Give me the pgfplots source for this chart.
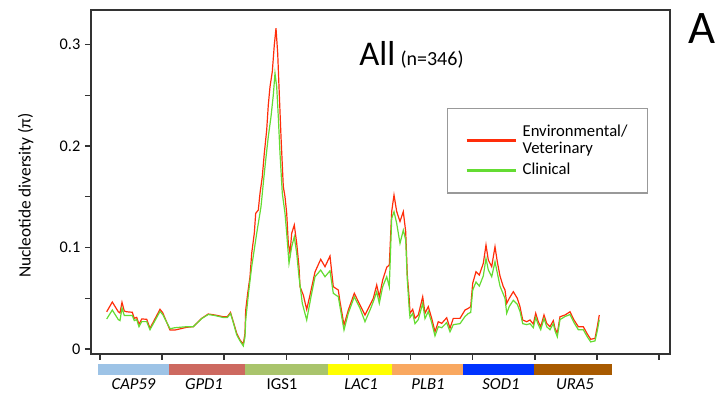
\documentclass[border=0pt]{standalone}
\usepackage{fontspec}
\setmainfont{Carlito}
\usepackage{pgfplots}
\pgfplotsset{compat=1.18}
\definecolor{envred}{RGB}{255,45,10}
\definecolor{clingreen}{RGB}{100,220,50}
\definecolor{gCAP}{RGB}{157,195,230}
\definecolor{gGPD}{RGB}{205,105,96}
\definecolor{gIGS}{RGB}{169,196,108}
\definecolor{gLAC}{RGB}{255,255,0}
\definecolor{gPLB}{RGB}{249,168,96}
\definecolor{gSOD}{RGB}{0,51,255}
\definecolor{gURA}{RGB}{168,90,0}
\begin{document}
\begin{tikzpicture}
\path[use as bounding box] (0,0) rectangle (538.5pt,296.25pt);
\begin{axis}[
  at={(68.25pt,30.75pt)}, anchor=south west,
  scale only axis, width=434.25pt, height=258pt,
  xmin=91, xmax=670, ymin=-0.0049, ymax=0.334,
  clip=false,
  axis line style={line width=1.1pt, color=black!80},
  every tick/.style={line width=1.1pt, color=black!80},
  tick align=outside, major tick length=4.5pt, minor tick length=4.5pt,
  xtick pos=left, ytick pos=left,
  xtick={100,162.1,224.2,286.3,348.4,410.6,472.7,534.8,596.9,659},
  xticklabels={},
  ytick={0,0.1,0.2,0.3}, yticklabels={0,0.1,0.2,0.3},
  minor ytick={0.05,0.15,0.25},
  /pgf/number format/assume math mode=true,
  yticklabel style={font=\fontsize{12.2}{13}\selectfont},
  ylabel={Nucleotide diversity (π)},
  ylabel style={at={(axis description cs:-0.113,0.46)}, anchor=center, font=\fontsize{13}{14}\selectfont},
  legend style={at={(axis description cs:0.615,0.715)}, anchor=north west,
    draw=black!40, line width=1pt, inner xsep=13pt, inner ysep=10pt,
    font=\fontsize{12.5}{13}\selectfont,
    cells={anchor=west, align=left, inner ysep=1pt},
    row sep=1.8pt, column sep=2pt},
  legend image code/.code={\draw[#1, line width=2.4pt] (0pt,0pt) -- (36.75pt,0pt);},
]
\addplot[envred, line width=0.9pt] table {
x y
106.7 0.0367
112.3 0.0463
118.3 0.0367
120.0 0.0355
122.0 0.0460
124.3 0.0374
126.7 0.0367
132.3 0.0362
134.3 0.0302
136.7 0.0312
139.0 0.0243
141.7 0.0296
146.7 0.0293
150.0 0.0204
160.0 0.0391
162.7 0.0358
170.0 0.0187
175.0 0.0187
186.7 0.0214
193.3 0.0220
201.7 0.0302
208.3 0.0345
215.0 0.0335
223.3 0.0318
227.3 0.0318
230.5 0.0360
233.3 0.0269
236.7 0.0155
240.0 0.0089
243.3 0.0049
245.0 0.0155
245.7 0.0384
247.7 0.0549
250.0 0.0712
251.7 0.0943
254.3 0.1140
255.7 0.1337
258.3 0.1369
260.0 0.1534
262.3 0.1698
264.3 0.1928
266.7 0.2158
268.3 0.2404
270.0 0.2584
272.3 0.2732
274.3 0.2995
276.0 0.3160
277.7 0.2913
279.0 0.2584
281.0 0.2092
283.3 0.1599
285.0 0.1500
286.7 0.1337
288.3 0.1041
290.0 0.0943
291.7 0.1140
294.3 0.1222
296.7 0.1041
299.0 0.0811
300.0 0.0614
303.3 0.0532
306.7 0.0390
310.0 0.0532
315.0 0.0759
320.7 0.0884
325.0 0.0811
330.0 0.0916
333.3 0.0614
338.3 0.0581
340.0 0.0466
344.0 0.0236
348.3 0.0384
354.3 0.0549
360.0 0.0433
365.0 0.0335
370.0 0.0433
373.3 0.0500
376.7 0.0631
379.3 0.0515
382.7 0.0680
386.7 0.0805
389.3 0.0828
391.7 0.1355
394.0 0.1517
396.7 0.1355
400.0 0.1256
403.3 0.1353
405.7 0.1156
407.3 0.0729
409.3 0.0483
410.0 0.0352
412.7 0.0391
415.0 0.0302
418.3 0.0335
422.7 0.0515
425.0 0.0352
428.3 0.0417
431.7 0.0302
435.0 0.0170
438.3 0.0269
441.7 0.0253
446.7 0.0308
450.0 0.0204
453.3 0.0302
460.0 0.0302
465.0 0.0384
468.3 0.0401
470.7 0.0417
472.7 0.0647
476.0 0.0762
479.3 0.0729
483.3 0.0844
486.0 0.1025
488.3 0.0877
491.7 0.0811
495.0 0.1008
497.3 0.0860
500.0 0.0719
503.3 0.0614
505.0 0.0581
506.7 0.0450
509.3 0.0500
513.3 0.0565
517.3 0.0500
520.0 0.0417
522.7 0.0286
526.7 0.0269
530.0 0.0286
533.3 0.0246
535.7 0.0352
538.3 0.0269
540.7 0.0220
544.0 0.0335
546.7 0.0253
550.0 0.0220
553.3 0.0279
555.0 0.0204
557.3 0.0155
560.0 0.0318
565.0 0.0335
570.0 0.0367
574.0 0.0286
578.3 0.0220
583.3 0.0220
587.3 0.0148
590.7 0.0096
595.0 0.0105
597.3 0.0220
599.3 0.0335
};
\addlegendentry{Environmental/\\Veterinary}
\addplot[clingreen, line width=0.9pt] table {
x y
106.7 0.0296
112.3 0.0384
118.3 0.0290
120.0 0.0280
122.0 0.0404
124.3 0.0330
126.7 0.0330
132.3 0.0330
134.3 0.0280
136.7 0.0290
139.0 0.0220
141.7 0.0270
146.7 0.0270
150.0 0.0190
160.0 0.0370
162.7 0.0340
170.0 0.0200
175.0 0.0210
186.7 0.0220
193.3 0.0220
201.7 0.0300
208.3 0.0340
215.0 0.0330
223.3 0.0310
227.3 0.0310
230.5 0.0350
233.3 0.0260
236.7 0.0140
240.0 0.0080
243.3 0.0030
245.0 0.0120
245.7 0.0286
248.5 0.0550
251.7 0.0811
256.7 0.1140
261.0 0.1402
263.3 0.1633
265.7 0.1862
268.3 0.2092
271.0 0.2289
273.3 0.2502
275.0 0.2716
276.7 0.2584
278.3 0.2289
280.0 0.1928
282.3 0.1534
285.0 0.1337
286.7 0.1140
289.0 0.0844
291.7 0.1008
294.3 0.1106
296.7 0.0943
299.0 0.0712
302.3 0.0450
306.7 0.0286
311.0 0.0515
315.0 0.0712
320.7 0.0778
325.0 0.0712
330.0 0.0771
333.3 0.0549
338.3 0.0515
340.0 0.0417
344.0 0.0187
348.3 0.0352
354.3 0.0515
360.0 0.0401
365.0 0.0269
370.0 0.0384
373.3 0.0466
376.7 0.0565
379.3 0.0450
382.7 0.0614
386.7 0.0712
389.3 0.0614
391.7 0.1288
394.0 0.1353
396.7 0.1238
400.0 0.1041
403.3 0.1172
405.7 0.1074
407.3 0.0680
409.3 0.0384
410.0 0.0310
412.7 0.0350
415.0 0.0250
418.3 0.0290
422.7 0.0450
425.0 0.0300
428.3 0.0370
431.7 0.0260
435.0 0.0130
438.3 0.0220
441.7 0.0210
446.7 0.0260
450.0 0.0170
453.3 0.0240
460.0 0.0250
465.0 0.0320
468.3 0.0350
470.7 0.0360
472.7 0.0580
476.0 0.0660
479.3 0.0620
483.3 0.0720
486.0 0.0893
488.3 0.0780
491.7 0.0712
495.0 0.0860
497.3 0.0750
500.0 0.0620
503.3 0.0540
505.0 0.0500
506.7 0.0352
509.3 0.0420
513.3 0.0480
517.3 0.0440
520.0 0.0370
522.7 0.0250
526.7 0.0240
530.0 0.0250
533.3 0.0210
535.7 0.0310
538.3 0.0240
540.7 0.0190
544.0 0.0300
546.7 0.0220
550.0 0.0190
553.3 0.0250
555.0 0.0180
557.3 0.0120
560.0 0.0290
565.0 0.0320
570.0 0.0340
574.0 0.0260
578.3 0.0190
583.3 0.0190
587.3 0.0120
590.7 0.0070
595.0 0.0080
597.3 0.0180
599.3 0.0290
};
\addlegendentry{Clinical}
% gene bar
\fill[gCAP] (axis cs:98,-0.0148) rectangle (axis cs:169,-0.0256);
\fill[gGPD] (axis cs:169,-0.0148) rectangle (axis cs:245,-0.0256);
\fill[gIGS] (axis cs:245,-0.0148) rectangle (axis cs:328,-0.0256);
\fill[gLAC] (axis cs:328,-0.0148) rectangle (axis cs:392,-0.0256);
\fill[gPLB] (axis cs:392,-0.0148) rectangle (axis cs:463,-0.0256);
\fill[gSOD] (axis cs:463,-0.0148) rectangle (axis cs:534,-0.0256);
\fill[gURA] (axis cs:534,-0.0148) rectangle (axis cs:612,-0.0256);
\begin{scope}[every node/.style={anchor=base, inner sep=0pt, font=\fontsize{12.5}{13}\selectfont}]
\node at (axis cs:133.5,-0.0394) {\itshape CAP59};
\node at (axis cs:204,-0.0394) {\itshape GPD1};
\node at (axis cs:282,-0.0394) {IGS1};
\node at (axis cs:361,-0.0394) {\itshape LAC1};
\node at (axis cs:428,-0.0394) {\itshape PLB1};
\node at (axis cs:501,-0.0394) {\itshape SOD1};
\node at (axis cs:575,-0.0394) {\itshape URA5};
\end{scope}
\node[anchor=base west, inner sep=0pt] at (axis cs:359,0.2798)
  {\fontsize{26}{28}\selectfont All\hspace{4pt}\fontsize{15}{16}\selectfont(n=346)};
\node[anchor=base west, inner sep=0pt, font=\fontsize{35}{38}\selectfont]
  at (axis description cs:1.031,0.904) {A};
\end{axis}
\end{tikzpicture}
\end{document}
